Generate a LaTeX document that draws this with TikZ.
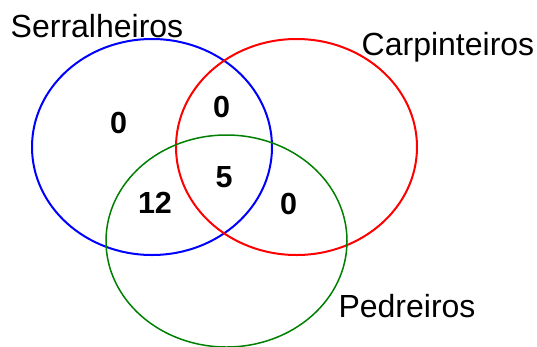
\documentclass[tikz,border=0pt]{standalone}
\usepackage{fontspec}
\setmainfont{Liberation Sans}
\usetikzlibrary{shapes.geometric}
\begin{document}
\begin{tikzpicture}[x=1pt,y=-1pt,
  setshape/.style={draw, ellipse, inner sep=0pt},
  setname/.style={anchor=base, font=\fontsize{32}{36}\selectfont, inner sep=0pt},
  count/.style={font=\fontsize{30.5}{34}\selectfont\bfseries, inner sep=0pt}]
  \useasboundingbox (0,0) rectangle (537,346);
  % the three sets
  \node[setshape, draw={rgb,255:red,0;green,0;blue,255}, line width=2pt,
        minimum width=240pt, minimum height=216pt] (serr) at (152,147) {};
  \node[setshape, draw={rgb,255:red,255;green,0;blue,0}, line width=2pt,
        minimum width=241pt, minimum height=216pt] (carp) at (296.5,147) {};
  \node[setshape, draw={rgb,255:red,0;green,128;blue,0}, line width=1.5pt,
        minimum width=241pt, minimum height=212pt] (pedr) at (226.5,241) {};
  % set names
  \node[setname] (lserr) at (97,37) {Serralheiros};
  \node[setname] (lcarp) at (448,55) {Carpinteiros};
  \node[setname] (lpedr) at (407,317) {Pedreiros};
  % region counts
  \node[count] (n1) at (118.5,122.5) {0};
  \node[count] (n2) at (221.5,106.5) {0};
  \node[count] (n3) at (224,177) {5};
  \node[count] (n4) at (155,203) {12};
  \node[count] (n5) at (288.5,204) {0};
\end{tikzpicture}
\end{document}
